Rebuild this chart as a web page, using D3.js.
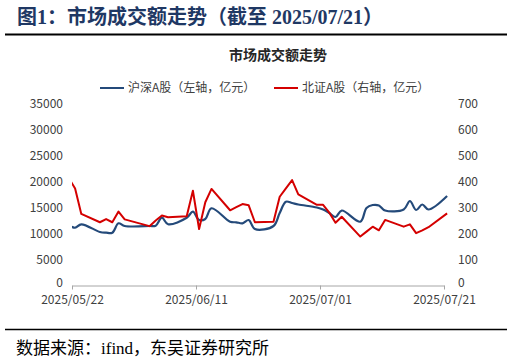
<!DOCTYPE html>
<html>
<head>
<meta charset="utf-8">
<script src="https://cdn.jsdelivr.net/npm/d3@7"></script>
<style>
  body { margin: 0; background: #fff; }
  svg { display: block; }
</style>
</head>
<body>
<div id="chart"></div>
<script>
// trading days (first one sits left of the axis and gets clipped, like the source)
const dates = ["2025/05/21","2025/05/22","2025/05/23","2025/05/26","2025/05/27","2025/05/28","2025/05/29","2025/05/30",
  "2025/06/03","2025/06/04","2025/06/05","2025/06/06","2025/06/09","2025/06/10","2025/06/11","2025/06/12","2025/06/13",
  "2025/06/16","2025/06/17","2025/06/18","2025/06/19","2025/06/20","2025/06/23","2025/06/24","2025/06/25","2025/06/26",
  "2025/06/27","2025/06/30","2025/07/01","2025/07/02","2025/07/03","2025/07/04","2025/07/07","2025/07/08","2025/07/09",
  "2025/07/10","2025/07/11","2025/07/14","2025/07/15","2025/07/16","2025/07/17","2025/07/18","2025/07/21"];

// 沪深A股 (left axis, 亿元)
const hsValues = [11530,11100,11760,10280,10140,10140,11950,11430,
  11430,11490,13020,11760,13020,14180,12580,12770,14830,
  12260,12140,11950,12580,10850,11430,13930,16100,15850,
  15560,14980,14600,13930,13160,14400,12260,14890,15460,
  15370,14400,14600,16230,14500,15560,14600,17190];

// 北证A股 (right axis, 亿元)
const bzValues = [412,373,275,243,255,243,284,254,
  228,250,269,262,266,364,217,320,371,
  289,301,313,308,243,245,341,373,405,
  350,310,310,280,241,264,188,207,226,
  212,252,226,235,201,212,224,277];

const xTickLabels = ["2025/05/22","2025/06/11","2025/07/01","2025/07/21"];
const leftTicks = [0,5000,10000,15000,20000,25000,30000,35000];
const rightTicks = [0,100,200,300,400,500,600,700];

const W = 512, H = 363;
const parse = d3.timeParse("%Y/%m/%d");

const svg = d3.select("#chart").append("svg")
    .attr("width", W)
    .attr("height", H);

// header
svg.append("text")
    .attr("x", 17).attr("y", 24)
    .style("font-family", "'Liberation Serif', 'Noto Sans CJK SC'")
    .style("font-weight", "bold")
    .style("font-size", "20px")
    .style("fill", "#1f3864")
    .text("图1：市场成交额走势（截至 2025/07/21）");

svg.append("line")
    .attr("x1", 5).attr("x2", 507).attr("y1", 34.5).attr("y2", 34.5)
    .style("stroke", "#000").style("stroke-width", 2);

svg.append("text")
    .attr("x", 278).attr("y", 60)
    .attr("text-anchor", "middle")
    .style("font-family", "'Noto Sans CJK SC'")
    .style("font-weight", "bold")
    .style("font-size", "14px")
    .style("fill", "#262626")
    .text("市场成交额走势");

// scales
const x = d3.scaleTime()
    .domain([parse(xTickLabels[0]), parse(xTickLabels[3])])
    .range([72, 444]);
const yL = d3.scaleLinear().domain([0, 35000]).range([285.5, 103.3]);
const yR = d3.scaleLinear().domain([0, 700]).range([285.5, 103.3]);

// points sit in the middle of their day
const xd = d => x(d3.timeHour.offset(parse(d), 12));

// axes
const axisFont = "'Noto Sans CJK SC', 'DejaVu Sans'";

const gx = svg.append("g")
    .attr("transform", "translate(0,285.5)")
    .call(d3.axisBottom(x)
        .tickValues(xTickLabels.map(parse))
        .tickFormat(d3.timeFormat("%Y/%m/%d"))
        .tickSizeInner(4).tickSizeOuter(0).tickPadding(6));
gx.select(".domain").style("stroke", "#a6a6a6");
gx.selectAll(".tick line").style("stroke", "#a6a6a6");
gx.selectAll(".tick text")
    .style("font-family", axisFont).style("font-size", "12px").style("fill", "#404040");

const gl = svg.append("g")
    .attr("transform", "translate(72,0)")
    .call(d3.axisLeft(yL).tickValues(leftTicks).tickFormat(d3.format("d"))
        .tickSize(0).tickPadding(9));
gl.select(".domain").remove();
gl.selectAll(".tick text")
    .style("font-family", axisFont).style("font-size", "12px").style("fill", "#404040");

const gr = svg.append("g")
    .attr("transform", "translate(450,0)")
    .call(d3.axisRight(yR).tickValues(rightTicks).tickFormat(d3.format("d"))
        .tickSize(0).tickPadding(8));
gr.select(".domain").remove();
gr.selectAll(".tick text")
    .style("font-family", axisFont).style("font-size", "12px").style("fill", "#404040");

// lift the zero labels a little so they don't crowd the dates
gl.selectAll(".tick").filter(d => d === 0).select("text").attr("dy", "0.1em");
gr.selectAll(".tick").filter(d => d === 0).select("text").attr("dy", "0.1em");

// clip at left edge of plot area
svg.append("clipPath").attr("id", "plotclip")
    .append("rect").attr("x", 72).attr("y", 90).attr("width", 400).attr("height", 200);

const plot = svg.append("g").attr("clip-path", "url(#plotclip)");

const hsLine = d3.line()
    .x((d, i) => xd(dates[i]))
    .y(d => yL(d))
    .curve(d3.curveCatmullRom);

const bzLine = d3.line()
    .x((d, i) => xd(dates[i]))
    .y(d => yR(d));

plot.append("path")
    .attr("d", hsLine(hsValues))
    .style("fill", "none").style("stroke", "#244a7a").style("stroke-width", 2.2)
    .style("stroke-linejoin", "round");

plot.append("path")
    .attr("d", bzLine(bzValues))
    .style("fill", "none").style("stroke", "#d40000").style("stroke-width", 2)
    .style("stroke-linejoin", "round");

// legend
const legend = [
    { name: "沪深A股（左轴，亿元）", color: "#244a7a", x: 100 },
    { name: "北证A股（右轴，亿元）", color: "#d40000", x: 274 }
];
const lg = svg.selectAll(".legend").data(legend).enter().append("g")
    .attr("class", "legend")
    .attr("transform", d => "translate(" + d.x + ",88)");
lg.append("line")
    .attr("x1", 0).attr("x2", 24).attr("y1", 0).attr("y2", 0)
    .style("stroke", d => d.color).style("stroke-width", 2);
lg.append("text")
    .attr("x", 28).attr("y", 4)
    .style("font-family", axisFont).style("font-size", "12px").style("fill", "#404040")
    .text(d => d.name);

// footer
svg.append("line")
    .attr("x1", 5).attr("x2", 507).attr("y1", 329.5).attr("y2", 329.5)
    .style("stroke", "#000").style("stroke-width", 1.5);

svg.append("text")
    .attr("x", 16).attr("y", 354)
    .style("font-family", "'Liberation Serif', 'Noto Sans CJK SC'")
    .style("font-size", "17px")
    .style("fill", "#000")
    .text("数据来源：ifind，东吴证券研究所");
</script>
</body>
</html>
